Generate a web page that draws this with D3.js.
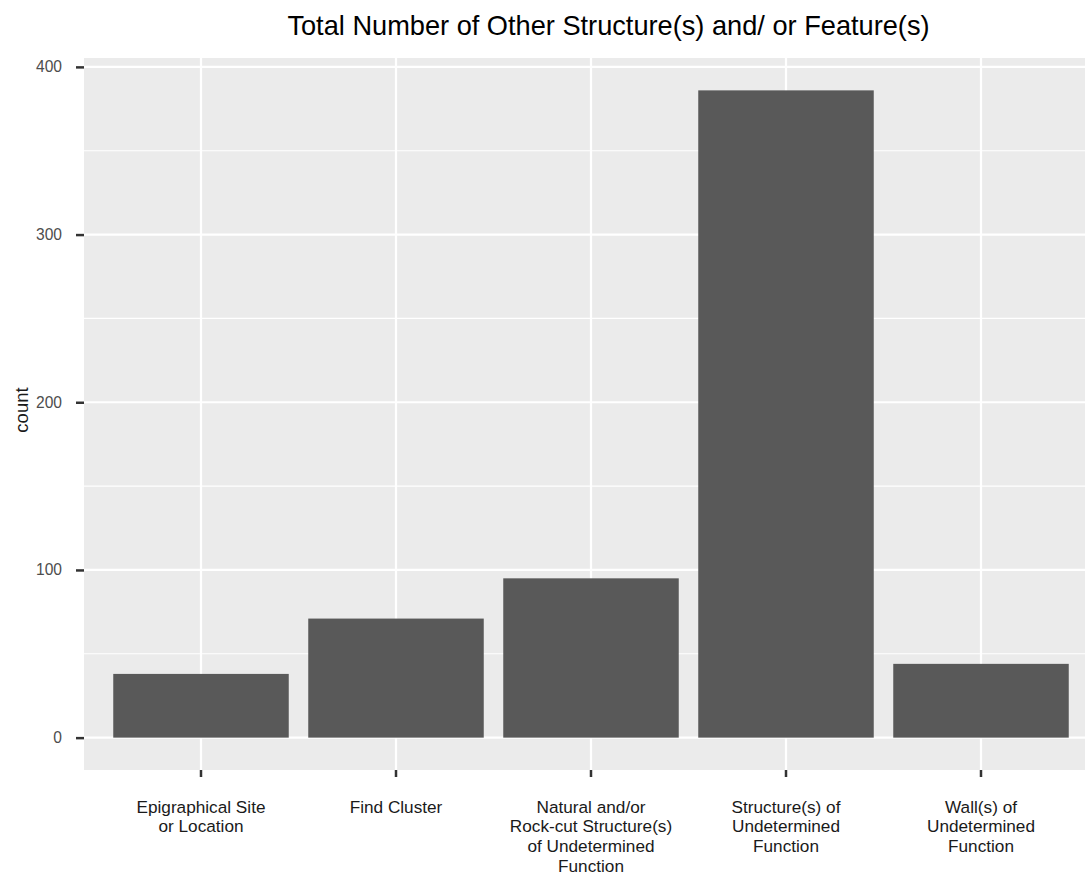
<!DOCTYPE html>
<html>
<head>
<meta charset="utf-8">
<script src="https://cdn.jsdelivr.net/npm/d3@7"></script>
<style>
  html, body { margin: 0; padding: 0; background: #ffffff; }
  svg { display: block; font-family: "Liberation Sans", Arial, sans-serif; }
</style>
</head>
<body>
<svg id="chart" width="1085" height="875"></svg>
<script>
// Feature categories (label lines) and their counts
const categories = [
  "Epigraphical Site\nor Location",
  "Find Cluster",
  "Natural and/or\nRock-cut Structure(s)\nof Undetermined\nFunction",
  "Structure(s) of\nUndetermined\nFunction",
  "Wall(s) of\nUndetermined\nFunction"
];
const counts = [38, 71, 95, 386, 44];
const yMajorTicks = [0, 100, 200, 300, 400];
const yMinorTicks = [50, 150, 250, 350];

const svg = d3.select("#chart");
const panel = { left: 84, right: 1098, top: 58, bottom: 770 };

const x = d3.scaleBand()
  .domain(categories)
  .range([panel.left, panel.right])
  .paddingInner(0.1)
  .paddingOuter(0.15);

// 5% expansion above and below the data range
const dataMax = d3.max(counts);
const y = d3.scaleLinear()
  .domain([-dataMax * 0.05, dataMax * 1.05])
  .range([panel.bottom, panel.top]);

// panel background
svg.append("rect")
  .attr("x", panel.left).attr("y", panel.top)
  .attr("width", panel.right - panel.left)
  .attr("height", panel.bottom - panel.top)
  .attr("fill", "#ebebeb");

const grid = svg.append("g");
grid.selectAll("line.minor")
  .data(yMinorTicks).join("line")
  .attr("x1", panel.left).attr("x2", panel.right)
  .attr("y1", d => y(d)).attr("y2", d => y(d))
  .attr("stroke", "#ffffff").attr("stroke-width", 1.1);
grid.selectAll("line.majory")
  .data(yMajorTicks).join("line")
  .attr("x1", panel.left).attr("x2", panel.right)
  .attr("y1", d => y(d)).attr("y2", d => y(d))
  .attr("stroke", "#ffffff").attr("stroke-width", 2.2);
grid.selectAll("line.majorx")
  .data(categories).join("line")
  .attr("x1", d => x(d) + x.bandwidth() / 2).attr("x2", d => x(d) + x.bandwidth() / 2)
  .attr("y1", panel.top).attr("y2", panel.bottom)
  .attr("stroke", "#ffffff").attr("stroke-width", 2.2);

// bars
svg.append("g").selectAll("rect")
  .data(categories.map((c, i) => ({ c, v: counts[i] })))
  .join("rect")
  .attr("x", d => x(d.c))
  .attr("width", x.bandwidth())
  .attr("y", d => y(d.v))
  .attr("height", d => y(0) - y(d.v))
  .attr("fill", "#595959");

// y axis
const yAxis = svg.append("g")
  .attr("transform", `translate(${panel.left},0)`)
  .call(d3.axisLeft(y).tickValues(yMajorTicks).tickSize(8).tickPadding(14));
yAxis.select(".domain").remove();
yAxis.selectAll(".tick line").attr("stroke", "#333333").attr("stroke-width", 2.5);
yAxis.selectAll(".tick text")
  .attr("fill", "#4d4d4d").attr("font-size", "15.6px")
  .attr("font-family", "Liberation Sans, Arial, sans-serif");

// x axis
const xAxis = svg.append("g")
  .attr("transform", `translate(0,${panel.bottom})`)
  .call(d3.axisBottom(x).tickSize(7).tickFormat(""));
xAxis.select(".domain").remove();
xAxis.selectAll(".tick line").attr("stroke", "#333333").attr("stroke-width", 2.5);

const xLabels = svg.append("g")
  .attr("font-size", "17.2px").attr("fill", "#1a1a1a").attr("text-anchor", "middle");
xLabels.selectAll("text")
  .data(categories).join("text")
  .attr("x", d => x(d) + x.bandwidth() / 2)
  .attr("y", 812.5)
  .each(function (d) {
    const t = d3.select(this);
    d.split("\n").forEach((line, i) => {
      t.append("tspan")
        .attr("x", x(d) + x.bandwidth() / 2)
        .attr("dy", i === 0 ? 0 : 19.8)
        .text(line);
    });
  });

// axis title
svg.append("text")
  .attr("transform", `translate(28,${(panel.top + panel.bottom) / 2 - 4}) rotate(-90)`)
  .attr("text-anchor", "middle")
  .attr("font-size", "18.5px").attr("fill", "#1a1a1a")
  .text("count");

// chart title
svg.append("text")
  .attr("x", 608.5).attr("y", 35)
  .attr("text-anchor", "middle")
  .attr("font-size", "27.2px").attr("fill", "#000000")
  .text("Total Number of Other Structure(s) and/ or Feature(s)");
</script>
</body>
</html>
